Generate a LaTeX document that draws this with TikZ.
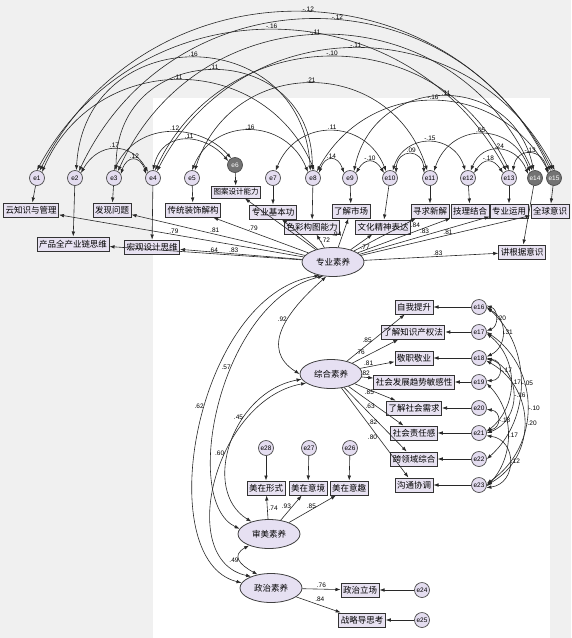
\documentclass[tikz,border=0pt]{standalone}
\usepackage{fontspec}
\setmainfont{Liberation Sans}
\newfontfamily\cjk{Noto Sans CJK SC}
\usetikzlibrary{shapes.geometric,arrows.meta}
\definecolor{bgray}{RGB}{240,240,240}
\definecolor{boxfill}{RGB}{232,226,242}
\definecolor{latfill}{RGB}{230,224,242}
\definecolor{errfill}{RGB}{228,221,240}
\definecolor{linegray}{RGB}{40,40,40}

\begin{document}
\begin{tikzpicture}
	[x=1pt,y=-1pt,>={Latex[length=5pt,width=3.6pt]},
	 obs/.style={rectangle,draw=black!80,line width=1pt,fill=boxfill,inner xsep=2pt,inner ysep=0pt,minimum height=14pt,font=\cjk\fontsize{8.5}{9}\selectfont},
	 err/.style={circle,draw=black!70,line width=0.7pt,fill=errfill,inner sep=0pt,minimum size=15pt,font=\fontsize{6.5}{7}\selectfont},
	 errdark/.style={err,fill=black!55,text=white},
	 lat/.style={ellipse,draw=black!75,line width=0.8pt,fill=latfill,minimum width=62pt,minimum height=29pt,font=\cjk\fontsize{8.5}{9}\selectfont},
	 lbl/.style={font=\fontsize{6.5}{7}\selectfont,inner sep=1pt},
	 load/.style={->,line width=0.6pt,draw=linegray},
	 cov/.style={<->,line width=0.6pt,draw=linegray}]

    \fill[bgray] (0,0) rectangle (571,638);
    \fill[white] (153,98) rectangle (550,638);
    \useasboundingbox (0,0) rectangle (571,638);

    % latent variables
    \node[lat] (P) at (333,262) {专业素养};
    \node[lat] (C) at (331,374) {综合素养};
    \node[lat] (A) at (269,534) {审美素养};
    \node[lat] (Z) at (271,588) {政治素养};

    % errors, top row
    \node[err] (e1) at (37,178) {e1};
    \node[err] (e2) at (75,178) {e2};
    \node[err] (e3) at (114,178) {e3};
    \node[err] (e4) at (153,178) {e4};
    \node[err] (e5) at (192,178) {e5};
    \node[errdark] (e6) at (235,165) {e6};
    \node[err] (e7) at (273,178) {e7};
    \node[err] (e8) at (313,178) {e8};
    \node[err] (e9) at (350,178) {e9};
    \node[err] (e10) at (390,178) {e10};
    \node[err] (e11) at (430,178) {e11};
    \node[err] (e12) at (468,178) {e12};
    \node[err] (e13) at (509,178) {e13};
    \node[errdark] (e14) at (535,178) {e14};
    \node[errdark] (e15) at (554,178) {e15};

    % indicators of 专业素养
    \node[obs] (i1) at (31,210) {云知识与管理};
    \node[obs] (i2) at (73,244) {产品全产业链思维};
    \node[obs] (i3) at (112,210) {发现问题};
    \node[obs] (i4) at (152,247) {宏观设计思维};
    \node[obs] (i5) at (193,210) {传统装饰解构};
    \node[obs,font=\cjk\fontsize{7.5}{8}\selectfont,minimum height=12pt] (i6) at (236,192) {图案设计能力};
    \node[obs] (i7) at (273,212) {专业基本功};
    \node[obs] (i8) at (312,227) {色彩构图能力};
    \node[obs] (i9) at (351,211) {了解市场};
    \node[obs] (i10) at (383,227) {文化精神表达};
    \node[obs] (i11) at (430,211) {寻求新解};
    \node[obs] (i12) at (470,211) {技理结合};
    \node[obs] (i13) at (509,211) {专业运用};
    \node[obs] (i14) at (522,252) {讲根据意识};
    \node[obs] (i15) at (550,211) {全球意识};

    % indicators of 综合素养
    \node[obs] (k1) at (414,307) {自我提升};
    \node[obs] (k2) at (413,332) {了解知识产权法};
    \node[obs] (k3) at (414,358) {敬职敬业};
    \node[obs] (k4) at (414,382) {社会发展趋势敏感性};
    \node[obs] (k5) at (414,408) {了解社会需求};
    \node[obs] (k6) at (414,433) {社会责任感};
    \node[obs] (k7) at (414,459) {跨领域综合};
    \node[obs] (k8) at (414,485) {沟通协调};

    \node[err] (e16) at (479,307) {e16};
    \node[err] (e17) at (479,332) {e17};
    \node[err] (e18) at (479,358) {e18};
    \node[err] (e19) at (479,382) {e19};
    \node[err] (e20) at (479,408) {e20};
    \node[err] (e21) at (479,433) {e21};
    \node[err] (e22) at (479,459) {e22};
    \node[err] (e23) at (479,485) {e23};

    % indicators of 审美素养 and 政治素养
    \node[obs] (a1) at (266,488) {美在形式};
    \node[obs] (a2) at (308,488) {美在意境};
    \node[obs] (a3) at (349,488) {美在意趣};
    \node[err] (e28) at (266,448) {e28};
    \node[err] (e27) at (309,448) {e27};
    \node[err] (e26) at (350,448) {e26};

    \node[obs] (z1) at (360,590) {政治立场};
    \node[obs] (z2) at (362,620) {战略导思考};
    \node[err] (e24) at (422,590) {e24};
    \node[err] (e25) at (422,620) {e25};

    % error paths
    \foreach \i in {1,...,15}
        \draw[load] (e\i) -- (i\i);
    \foreach \e/\k in {16/1,17/2,18/3,19/4,20/5,21/6,22/7,23/8}
        \draw[load] (e\e) -- (k\k);
    \draw[load] (e28) -- (a1);
    \draw[load] (e27) -- (a2);
    \draw[load] (e26) -- (a3);
    \draw[load] (e24) -- (z1);
    \draw[load] (e25) -- (z2);

    % loadings of 专业素养
    \draw[load] (P) -- (i1) node[lbl,pos=0.53,above] {.79};
    \draw[load] (P) -- (i2) node[lbl,pos=0.46,above] {.64};
    \draw[load] (P) -- (i3) node[lbl,pos=0.52,above] {.81};
    \draw[load] (P) -- (i4) node[lbl,pos=0.56,above] {.83};
    \draw[load] (P) -- (i5) node[lbl,pos=0.58,above] {.79};
    \draw[load] (P) -- (i6);
    \draw[load] (P) -- (i7);
    \draw[load] (P) -- (i8) node[lbl,pos=0.6,right] {.72};
    \draw[load] (P) -- (i9) node[lbl,pos=0.45,left] {.94};
    \draw[load] (P) -- (i10) node[lbl,pos=0.4,below right] {.77};
    \draw[load] (P) -- (i11) node[lbl,pos=0.9,below right] {.84};
    \draw[load] (P) -- (i12) node[lbl,pos=0.72,below] {.83};
    \draw[load] (P) -- (i13) node[lbl,pos=0.68,below] {.81};
    \draw[load] (P) -- (i14) node[lbl,pos=0.55,above] {.83};
    \draw[load] (P) -- (i15);

    % loadings of 综合素养
    \draw[load] (C) -- (k1) node[lbl,pos=0.45,left] {.85};
    \draw[load] (C) -- (k2) node[lbl,pos=0.3,above left] {.76};
    \draw[load] (C) -- (k3) node[lbl,pos=0.25,above] {.81};
    \draw[load] (C) -- (k4) node[lbl,pos=0.3,above] {.82};
    \draw[load] (C) -- (k5) node[lbl,pos=0.5,left] {.85};
    \draw[load] (C) -- (k6) node[lbl,pos=0.5,left] {.63};
    \draw[load] (C) -- (k7) node[lbl,pos=0.55,left] {.82};
    \draw[load] (C) -- (k8) node[lbl,pos=0.55,left] {.80};

    % loadings of 审美素养 and 政治素养
    \draw[load] (A) -- (a1) node[lbl,pos=0.45,right] {.74};
    \draw[load] (A) -- (a2) node[lbl,pos=0.55,left] {.93};
    \draw[load] (A) -- (a3) node[lbl,pos=0.6,left] {.85};
    \draw[load] (Z) -- (z1) node[lbl,pos=0.5,above] {.76};
    \draw[load] (Z) -- (z2) node[lbl,pos=0.4,above right] {.84};

    % correlations between latent variables
    \draw[cov] (P.245) .. controls +(-40,35) and +(-40,-25) .. (C.west) node[lbl,pos=0.4,left] {.92};
    \draw[cov] (P.235) .. controls (220,300) and (180,500) .. (A.170) node[lbl,pos=0.4,left] {.57};
    \draw[cov] (P.225) .. controls (195,295) and (150,560) .. (Z.170) node[lbl,pos=0.45,left] {.62};
    \draw[cov] (C.200) .. controls (215,400) and (175,560) .. (Z.150) node[lbl,pos=0.4,left] {.60};
    \draw[cov] (C.190) .. controls (232,392) and (200,490) .. (A.145) node[lbl,pos=0.35,left] {.45};
    \draw[cov] (A.210) .. controls +(-18,10) and +(-18,-10) .. (Z.135) node[lbl,pos=0.5,left] {.49};

    % error covariances, top row
    \draw[cov] (e1.70) .. controls +(108,-211) and +(-108,-211) .. (e15.100) node[lbl,pos=0.52,above] {-.12};
    \draw[cov] (e2.60) .. controls +(95,-202) and +(-95,-202) .. (e15.115) node[lbl,pos=0.54,above] {-.12};
    \draw[cov] (e1.90) .. controls +(102,-187) and +(-102,-187) .. (e13.110) node[lbl,pos=0.5,above] {-.16};
    \draw[cov] (e3.60) .. controls +(82,-181) and +(-82,-181) .. (e14.110) node[lbl,pos=0.48,above] {-.11};
    \draw[cov] (e4.60) .. controls +(84,-163) and +(-84,-163) .. (e15.85) node[lbl,pos=0.5,above] {-.11};
    \draw[cov] (e2.80) .. controls +(8,-150) and +(-8,-150) .. (e8.110) node[lbl,pos=0.5,above] {.16};
    \draw[cov] (e4.75) .. controls +(71,-151) and +(-71,-151) .. (e13.90) node[lbl,pos=0.5,above] {-.10};
    \draw[cov] (e3.75) .. controls +(0,-133) and +(0,-133) .. (e8.95) node[lbl,pos=0.5,above] {.11};
    \draw[cov] (e1.50) .. controls +(52,-121) and +(-52,-121) .. (e8.80) node[lbl,pos=0.5,above] {.11};
    \draw[cov] (e5.70) .. controls +(37,-116) and +(-37,-116) .. (e11.110) node[lbl,pos=0.5,above] {.21};
    \draw[cov] (e8.60) .. controls +(52,-94) and +(-52,-94) .. (e15.130) node[lbl,pos=0.5,above] {-.16};
    \draw[cov] (e9.60) .. controls +(21,-99) and +(-21,-99) .. (e14.100) node[lbl,pos=0.51,above] {.11};
    \draw[cov] (e3.90) .. controls +(25,-51) and +(-30,-34) .. (e6.120) node[lbl,pos=0.53,above] {.12};
    \draw[cov] (e4.90) .. controls +(10,-43) and +(-21,-26) .. (e6.150) node[lbl,pos=0.53,above] {.11};
    \draw[cov] (e5.90) .. controls +(22,-54) and +(-22,-54) .. (e8.130) node[lbl,pos=0.5,above] {.16};
    \draw[cov] (e7.70) .. controls +(21,-53) and +(-21,-53) .. (e10.120) node[lbl,pos=0.51,above] {.11};
    \draw[cov] (e2.40) .. controls +(17,-31) and +(-17,-31) .. (e4.130) node[lbl,pos=0.5,above] {.17};
    \draw[cov] (e3.30) .. controls +(6,-19) and +(-6,-19) .. (e4.150) node[lbl,pos=0.53,above] {.12};
    \draw[cov] (e8.40) .. controls +(6,-18) and +(-6,-18) .. (e9.140) node[lbl,pos=0.5,above] {.14};
    \draw[cov] (e9.40) .. controls +(9,-15) and +(-9,-15) .. (e10.140) node[lbl,pos=0.5,above] {-.10};
    \draw[cov] (e10.40) .. controls +(1,-25) and +(-1,-25) .. (e11.140) node[lbl,pos=0.53,above] {.09};
    \draw[cov] (e10.70) .. controls +(12,-38) and +(-12,-38) .. (e12.110) node[lbl,pos=0.51,above] {-.15};
    \draw[cov] (e11.60) .. controls +(17,-50) and +(-17,-50) .. (e14.130) node[lbl,pos=0.49,above] {.05};
    \draw[cov] (e12.40) .. controls +(10,-15) and +(-10,-15) .. (e13.140) node[lbl,pos=0.5,above] {-.18};
    \draw[cov] (e12.70) .. controls +(12,-30) and +(-12,-30) .. (e14.150) node[lbl,pos=0.5,above] {.24};
    \draw[cov] (e13.60) .. controls +(4,-25) and +(-4,-25) .. (e15.145) node[lbl,pos=0.5,above] {-.13};

    % error covariances, right column
    \draw[cov] (e16.10) .. controls +(12,4) and +(12,-4) .. (e17.10) node[lbl,pos=0.5,right] {.20};
    \draw[cov] (e16.-10) .. controls +(21,10) and +(21,-10) .. (e18.10) node[lbl,pos=0.5,right] {.31};
    \draw[cov] (e18.-10) .. controls +(17,0) and +(17,0) .. (e19.10) node[lbl,pos=0.5,right] {-.17};
    \draw[cov] (e17.-10) .. controls +(32,26) and +(32,-26) .. (e21.10) node[lbl,pos=0.5,right] {.17};
    \draw[cov] (e18.0) .. controls +(35,13) and +(35,-13) .. (e21.0) node[lbl,pos=0.5,right] {-.16};
    \draw[cov] (e16.0) .. controls +(45,40) and +(45,-40) .. (e22.0) node[lbl,pos=0.5,right] {-.05};
    \draw[cov] (e17.0) .. controls +(54,37) and +(54,-37) .. (e23.10) node[lbl,pos=0.5,right] {-.10};
    \draw[cov] (e18.-20) .. controls +(50,28) and +(50,-28) .. (e23.0) node[lbl,pos=0.5,right] {-.20};
    \draw[cov] (e20.-10) .. controls +(15,2) and +(15,-2) .. (e21.20) node[lbl,pos=0.5,right] {-.18};
    \draw[cov] (e19.-10) .. controls +(28,29) and +(28,-29) .. (e23.-10) node[lbl,pos=0.5,right] {.17};
    \draw[cov] (e21.-20) .. controls +(31,4) and +(31,-4) .. (e23.-20) node[lbl,pos=0.5,right] {.12};

\end{tikzpicture}
\end{document}
